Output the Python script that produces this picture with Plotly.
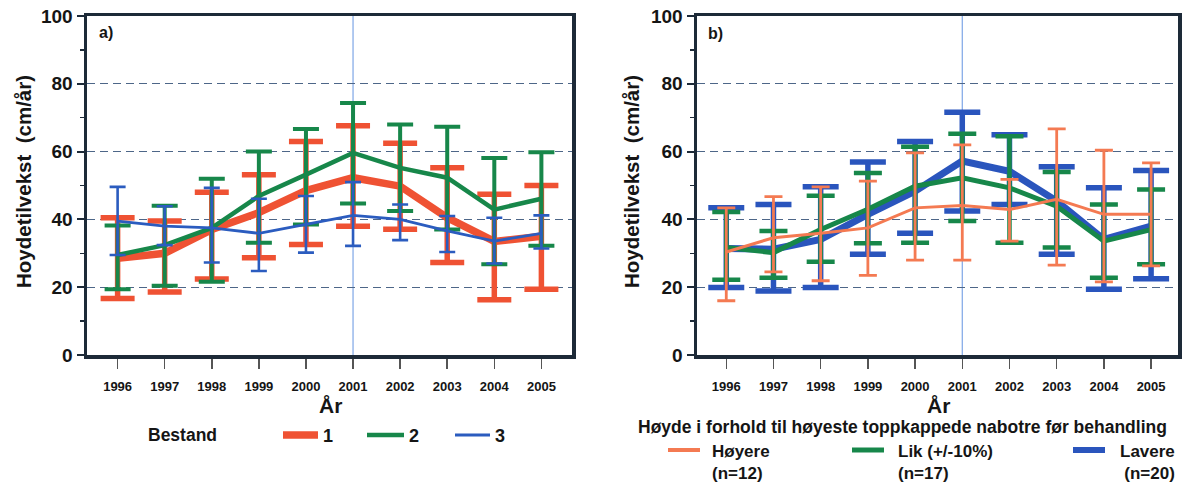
import numpy as np
import plotly.graph_objects as go

# ---------------- data ----------------
years = [1996, 1997, 1998, 1999, 2000, 2001, 2002, 2003, 2004, 2005]
highlight_year = 2001

# Panel a) Bestand 1, 2, 3 : mean, upper end, lower end of bars
b1_mean = [28.5, 30.0, 37.0, 42.0, 48.5, 52.3, 49.8, 40.5, 33.5, 35.0]
b1_up = [40.5, 39.5, 48.0, 53.2, 63.0, 67.6, 62.5, 55.2, 47.4, 50.0]
b1_lo = [16.7, 18.6, 22.4, 28.7, 32.6, 38.0, 37.1, 27.3, 16.3, 19.4]

b2_mean = [29.5, 32.4, 37.5, 46.9, 53.2, 59.6, 55.2, 52.3, 42.9, 46.1]
b2_up = [38.2, 44.0, 52.0, 60.0, 66.7, 74.3, 68.0, 67.3, 58.1, 59.8]
b2_lo = [19.4, 20.4, 21.6, 33.1, 38.5, 44.7, 42.5, 37.0, 26.8, 32.2]

b3_mean = [39.5, 38.0, 37.5, 35.9, 38.5, 41.2, 40.0, 36.6, 33.6, 35.9]
b3_up = [49.6, 43.9, 49.3, 46.1, 46.9, 51.0, 44.4, 41.0, 40.5, 41.2]
b3_lo = [29.5, 32.4, 27.3, 24.8, 30.2, 32.2, 33.9, 30.4, 27.0, 31.4]

# Panel b) Høyere / Lik / Lavere
hoy_mean = [30.4, 34.6, 35.9, 37.5, 43.4, 44.1, 42.9, 45.9, 41.5, 41.5]
hoy_up = [43.4, 46.7, 49.6, 51.3, 59.6, 62.0, 51.8, 66.7, 60.4, 56.7]
hoy_lo = [16.0, 24.5, 21.9, 23.5, 28.0, 28.0, 33.6, 26.5, 21.6, 26.3]

lik_mean = [31.7, 30.2, 37.0, 43.0, 49.8, 52.3, 49.3, 43.9, 33.6, 37.0]
lik_up = [42.2, 36.6, 47.0, 53.7, 61.4, 65.3, 64.5, 54.0, 44.4, 48.8]
lik_lo = [22.2, 22.8, 27.5, 33.0, 33.1, 39.5, 33.1, 31.7, 22.8, 26.8]

lav_mean = [31.4, 31.2, 34.1, 41.5, 48.3, 57.2, 54.2, 45.4, 34.1, 38.0]
lav_up = [43.4, 44.4, 49.6, 56.9, 63.0, 71.6, 65.0, 55.5, 49.3, 54.4]
lav_lo = [19.9, 18.9, 19.9, 29.7, 35.9, 42.5, 44.4, 29.7, 19.4, 22.5]

y_ticks = [0, 20, 40, 60, 80, 100]
y_minor = [10, 30, 50, 70, 90]

# ---------------- styling ----------------
W, H = 1185, 485
RED = "#ef5233"
GREEN = "#17874a"
BLUE = "#2b5cbf"
SALMON = "#f47a52"
LBLUE = "#2a55bd"
FRAME = "#1d2a38"
GRID = "#4d6688"
FONT = "Liberation Sans"


def px(x):
    return x / W


def py(y):
    return 1 - y / H


fig = go.Figure()


def add_series(mean, up, lo, color, lw, ew, cap, xa, ya, name):
    m = np.array(mean, dtype=float)
    fig.add_trace(go.Scatter(
        x=years, y=m, mode="lines", name=name, showlegend=False,
        line=dict(color=color, width=lw),
        error_y=dict(type="data", symmetric=False,
                     array=np.array(up, dtype=float) - m,
                     arrayminus=m - np.array(lo, dtype=float),
                     color=color, thickness=ew, width=cap),
        xaxis=xa, yaxis=ya, hoverinfo="skip",
    ))


# panel a (draw order: 1, 2, 3)
add_series(b1_mean, b1_up, b1_lo, RED, 7.5, 5.5, 17, "x", "y", "1")
add_series(b2_mean, b2_up, b2_lo, GREEN, 4.5, 4, 13, "x", "y", "2")
add_series(b3_mean, b3_up, b3_lo, BLUE, 2.8, 2.6, 8, "x", "y", "3")
# panel b (draw order: Lavere, Lik, Høyere)
add_series(lav_mean, lav_up, lav_lo, LBLUE, 7, 5.5, 18, "x2", "y2", "Lavere (n=20)")
add_series(lik_mean, lik_up, lik_lo, GREEN, 5, 4.5, 14, "x2", "y2", "Lik (+/-10%) (n=17)")
add_series(hoy_mean, hoy_up, hoy_lo, SALMON, 3, 2.8, 9, "x2", "y2", "Høyere (n=12)")

ydom = [py(355), py(16)]
yax = dict(range=[0, 100], tickvals=y_ticks, ticks="outside", ticklen=7, tickwidth=2,
           tickcolor=FRAME, showline=True, linewidth=3.5, linecolor=FRAME, mirror=True,
           showgrid=True, gridcolor=GRID, griddash="8px,5px", gridwidth=1.2, zeroline=False,
           tickfont=dict(family=FONT, size=19, color="#151515", weight="bold"),
           minor=dict(tickvals=y_minor, ticks="outside", ticklen=4, tickwidth=1.5,
                      tickcolor=FRAME, showgrid=False),
           domain=ydom, fixedrange=True, automargin=False)
xax = dict(range=[1995.35, 2005.65], tickvals=years, ticks="outside", ticklen=10, tickwidth=1.5,
           tickcolor="#555555", showline=True, linewidth=3.5, linecolor=FRAME, mirror=True,
           showgrid=False, zeroline=False, ticklabelstandoff=7, automargin=False,
           fixedrange=True,
           tickfont=dict(family=FONT, size=13, color="#151515", weight="bold"))

fig.update_layout(
    width=W, height=H, margin=dict(l=0, r=0, t=0, b=0, autoexpand=False),
    paper_bgcolor="white", plot_bgcolor="white", showlegend=False,
    xaxis=dict(xax, domain=[px(87), px(572)], anchor="y"),
    yaxis=dict(yax, anchor="x"),
    xaxis2=dict(xax, range=[1995.38, 2005.57], domain=[px(697), px(1178)], anchor="y2"),
    yaxis2=dict(yax, anchor="x2"),
)

# vertical reference lines at 2001
for xr, yr in (("x", "y"), ("x2", "y2")):
    fig.add_shape(type="line", xref=xr, yref=yr, x0=highlight_year, x1=highlight_year,
                  y0=0, y1=100, line=dict(color="#7ea6e6", width=1.2), layer="below")

ann = []


def text(x, y, s, size, xanchor="center", yanchor="middle", angle=0, align="left", weight="bold"):
    ann.append(dict(x=px(x), y=py(y), xref="paper", yref="paper", text=s, showarrow=False,
                    xanchor=xanchor, yanchor=yanchor, textangle=angle, align=align,
                    font=dict(family=FONT, size=size, color="#151515", weight=weight)))


# panel labels
text(97, 33, "a)", 16, xanchor="left")
text(706, 34, "b)", 16, xanchor="left")
# axis titles
text(23, 182, "Hoydetilvekst  (cm/år)", 20.5, angle=-90)
text(631, 182, "Hoydetilvekst  (cm/år)", 20.5, angle=-90)
text(330, 405, "År", 21)
text(938, 405, "År", 21)

# legend a
text(182, 435, "Bestand", 17.5)
leg_a = [(283, 318, RED, 7.5, "1"), (367, 404, GREEN, 4.5, "2"), (455, 490, BLUE, 3, "3")]
for x0, x1, c, w, lab in leg_a:
    fig.add_shape(type="line", xref="paper", yref="paper", x0=px(x0), x1=px(x1),
                  y0=py(435), y1=py(435), line=dict(color=c, width=w))
    text(x1 + 3, 436, lab, 18, xanchor="left")

# legend b
text(902, 427, "Høyde i forhold til høyeste toppkappede nabotre før behandling", 17.5)
leg_b = [(668, 700, SALMON, 4, "Høyere<br>(n=12)", 710, "left"),
         (852, 884, GREEN, 5, "Lik (+/-10%)<br>(n=17)", 896, "left"),
         (1073, 1105, LBLUE, 6, "Lavere<br>(n=20)", 1177, "right")]
for x0, x1, c, w, lab, tx, al in leg_b:
    fig.add_shape(type="line", xref="paper", yref="paper", x0=px(x0), x1=px(x1),
                  y0=py(450), y1=py(450), line=dict(color=c, width=w))
    text(tx, 462, lab, 17, xanchor=al, align=al)

fig.update_layout(annotations=ann)
fig.write_html(
    "out.html",
    config={"displayModeBar": False, "staticPlot": True},
    post_script="document.body.style.margin='0';document.body.style.overflow='hidden';",
)
